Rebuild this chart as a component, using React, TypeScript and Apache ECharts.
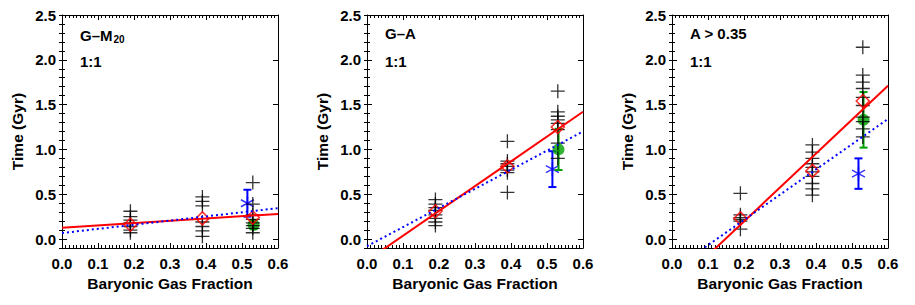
import React, { useEffect, useRef } from "react";
import * as echarts from "echarts";

const FONT = "'Liberation Sans', Arial, Helvetica, sans-serif";

// Panel labels
const panelTitles = ["{a|G–M}{s|20}", "{a|G–A}", "{a|A > 0.35}"];
const ratioLabel = "1:1";

// Axis ticks
const xTicks = [0, 0.1, 0.2, 0.3, 0.4, 0.5, 0.6];
const yMajor = [0, 0.5, 1.0, 1.5, 2.0, 2.5];

// Group positions (baryonic gas fraction)
const groupX = [0.19, 0.39, 0.53];

// Individual timescales (black plus signs), per panel, per group
const p1Plus = [
  [0.31, 0.25, 0.21, 0.18, 0.14, 0.1, 0.07],
  [0.47, 0.42, 0.37, 0.19, 0.14, 0.09, 0.03],
  [0.63, 0.39, 0.27, 0.22, 0.18, 0.15, 0.12, 0.07],
];
const p2Plus = [
  [0.44, 0.39, 0.35, 0.32, 0.27, 0.23, 0.19, 0.15],
  [1.09, 0.87, 0.84, 0.81, 0.77, 0.74, 0.52],
  [1.65, 1.42, 1.37, 1.33, 1.29, 1.22, 1.07, 0.9],
];
const p3Plus = [
  [0.51, 0.27, 0.24, 0.22, 0.2, 0.11],
  [1.05, 0.97, 0.9, 0.84, 0.8, 0.75, 0.7, 0.62, 0.56, 0.49],
  [2.14, 1.83, 1.75, 1.68, 1.58, 1.49, 1.36, 1.31, 1.23, 1.14],
];

// Means (red diamonds)
const p1Mean = [0.16, 0.23, 0.24];
const p2Mean = [0.31, 0.81, 1.25];
const p3Mean = [0.23, 0.76, 1.54];

// Green points with error bars: [x, y, err]
const greenPts = [
  [0.532, 0.16, 0.05],
  [0.532, 1.0, 0.23],
  [0.532, 1.33, 0.31],
];
// Blue asterisks with error bars: [x, y, err]
const bluePts = [
  [0.515, 0.4, 0.15],
  [0.515, 0.78, 0.2],
  [0.518, 0.73, 0.17],
];

// Fit lines: endpoints [[x0,y0],[x1,y1]]
const redFits = [
  [[0, 0.125], [0.6, 0.28]],
  [[0, -0.24], [0.6, 1.42]],
  [[0, -0.56], [0.6, 1.71]],
];
const blueFits = [
  [[0, 0.067], [0.6, 0.345]],
  [[0, -0.08], [0.6, 1.2]],
  [[0, -0.35], [0.6, 1.34]],
];

const plusSets = [p1Plus, p2Plus, p3Plus];
const meanSets = [p1Mean, p2Mean, p3Mean];

const gridLefts = [62, 367, 672];
const GRID_TOP = 15;
const GRID_W = 216;
const GRID_H = 233;

const RED = "#ff0000";
const BLUE = "#0000ff";
const GREEN = "#00a000";

const PLUS = "path://M0,7 L14,7 M7,0 L7,14";
const ASTER = "path://M6,0 L6,14 M0,3.5 L12,10.5 M0,10.5 L12,3.5";

function errBar(color: string) {
  return (params: any, api: any) => {
    const x = api.value(0);
    const y = api.value(1);
    const e = api.value(2);
    const t = api.coord([x, y + e]);
    const b = api.coord([x, y - e]);
    const w = 4;
    const st = { stroke: color, lineWidth: 2 };
    return {
      type: "group",
      children: [
        { type: "line", shape: { x1: t[0], y1: t[1], x2: b[0], y2: b[1] }, style: st },
        { type: "line", shape: { x1: t[0] - w, y1: t[1], x2: t[0] + w, y2: t[1] }, style: st },
        { type: "line", shape: { x1: b[0] - w, y1: b[1], x2: b[0] + w, y2: b[1] }, style: st },
      ],
    };
  };
}

export default function App() {
  const ref = useRef<HTMLDivElement>(null);
  useEffect(() => {
    if (!ref.current) return;
    const chart = echarts.init(ref.current, undefined, { renderer: "svg" });

    const grid: any[] = [];
    const xAxis: any[] = [];
    const yAxis: any[] = [];
    const series: any[] = [];
    const title: any[] = [];

    const lineStyle = { color: "#000", width: 1 };

    for (let k = 0; k < 3; k++) {
      grid.push({ left: gridLefts[k], top: GRID_TOP, width: GRID_W, height: GRID_H });
      const xBase = {
        type: "value",
        gridIndex: k,
        min: 0,
        max: 0.6,
        interval: 0.1,
        splitLine: { show: false },
        axisLine: { show: true, onZero: false, lineStyle },
        axisTick: { show: true, inside: true, length: 5, lineStyle },
        minorTick: { show: true, splitNumber: 10, length: 3, lineStyle },
      };
      xAxis.push({
        ...xBase,
        position: "bottom",
        name: "Baryonic Gas Fraction",
        nameLocation: "middle",
        nameGap: 27,
        nameTextStyle: { fontFamily: FONT, fontSize: 15.5, fontWeight: "bold", color: "#000" },
        axisLabel: {
          show: true,
          margin: 8,
          fontFamily: FONT,
          fontSize: 15,
          fontWeight: "bold",
          color: "#000",
          customValues: xTicks,
          formatter: (v: number) => v.toFixed(1),
        },
      });
      xAxis.push({ ...xBase, position: "top", axisLabel: { show: false } });

      const yBase = {
        type: "value",
        gridIndex: k,
        min: -0.1,
        max: 2.5,
        interval: 0.1,
        splitLine: { show: false },
        axisLine: { show: true, onZero: false, lineStyle },
      };
      yAxis.push({
        ...yBase,
        position: "left",
        name: "Time (Gyr)",
        nameLocation: "middle",
        nameGap: 37,
        nameTextStyle: { fontFamily: FONT, fontSize: 15.5, fontWeight: "bold", color: "#000" },
        axisTick: { show: true, inside: true, length: 5, lineStyle, customValues: yMajor },
        axisLabel: {
          show: true,
          margin: 6,
          fontFamily: FONT,
          fontSize: 15,
          fontWeight: "bold",
          color: "#000",
          customValues: yMajor,
          formatter: (v: number) => v.toFixed(1),
        },
      });
      yAxis.push({
        ...yBase,
        position: "left",
        axisLine: { show: false },
        axisTick: { show: true, inside: true, length: 3, lineStyle },
        axisLabel: { show: false },
      });
      yAxis.push({
        ...yBase,
        position: "right",
        axisTick: { show: true, inside: true, length: 5, lineStyle, customValues: yMajor },
        axisLabel: { show: false },
      });
      yAxis.push({
        ...yBase,
        position: "right",
        axisLine: { show: false },
        axisTick: { show: true, inside: true, length: 3, lineStyle },
        axisLabel: { show: false },
      });

      const xi = 2 * k;
      const yi = 4 * k;

      // Blue asterisk error bars
      series.push({
        type: "custom",
        xAxisIndex: xi,
        yAxisIndex: yi,
        renderItem: errBar(BLUE),
        data: [bluePts[k]],
        z: 2,
      });
      series.push({
        type: "scatter",
        xAxisIndex: xi,
        yAxisIndex: yi,
        symbol: ASTER,
        symbolSize: [13, 14],
        itemStyle: { color: "transparent", borderColor: BLUE, borderWidth: 1.5 },
        data: [[bluePts[k][0], bluePts[k][1]]],
        z: 2,
      });
      // Green points
      series.push({
        type: "custom",
        xAxisIndex: xi,
        yAxisIndex: yi,
        renderItem: errBar(GREEN),
        data: [greenPts[k]],
        z: 3,
      });
      series.push({
        type: "scatter",
        xAxisIndex: xi,
        yAxisIndex: yi,
        symbol: "circle",
        symbolSize: 12,
        itemStyle: { color: GREEN },
        data: [[greenPts[k][0], greenPts[k][1]]],
        z: 3,
      });
      // Black pluses
      const plusData: number[][] = [];
      plusSets[k].forEach((vals, g) => vals.forEach((v) => plusData.push([groupX[g], v])));
      series.push({
        type: "scatter",
        xAxisIndex: xi,
        yAxisIndex: yi,
        symbol: PLUS,
        symbolSize: 14,
        itemStyle: { color: "transparent", borderColor: "#000", borderWidth: 1.3 },
        data: plusData,
        z: 4,
      });
      // Red diamonds
      series.push({
        type: "scatter",
        xAxisIndex: xi,
        yAxisIndex: yi,
        symbol: "diamond",
        symbolSize: 13,
        itemStyle: { color: "transparent", borderColor: RED, borderWidth: 1.6 },
        data: meanSets[k].map((v, g) => [groupX[g], v]),
        z: 5,
      });
      // Fits
      series.push({
        type: "line",
        xAxisIndex: xi,
        yAxisIndex: yi,
        symbol: "none",
        clip: true,
        lineStyle: { color: RED, width: 2 },
        data: redFits[k],
        z: 6,
      });
      series.push({
        type: "line",
        xAxisIndex: xi,
        yAxisIndex: yi,
        symbol: "none",
        clip: true,
        lineStyle: { color: BLUE, width: 2, type: [2, 3] },
        data: blueFits[k],
        z: 6,
      });

      const rich = {
        a: { fontFamily: FONT, fontSize: 15, fontWeight: "bold", color: "#000" },
        s: { fontFamily: FONT, fontSize: 10, fontWeight: "bold", color: "#000", padding: [8, 0, 0, 1] },
      };
      title.push({
        text: panelTitles[k],
        left: gridLefts[k] + 18,
        top: 26,
        padding: 0,
        textStyle: { rich },
      });
      title.push({
        text: ratioLabel,
        left: gridLefts[k] + 18,
        top: 54,
        padding: 0,
        textStyle: { fontFamily: FONT, fontSize: 15, fontWeight: "bold", color: "#000" },
      });
    }

    chart.setOption({
      animation: false,
      backgroundColor: "#fff",
      title,
      grid,
      xAxis,
      yAxis,
      series,
    });
    return () => chart.dispose();
  }, []);
  return (
    <div
      ref={ref}
      style={{ position: "fixed", left: 0, top: 0, width: 915, height: 305, background: "#fff" }}
    />
  );
}
